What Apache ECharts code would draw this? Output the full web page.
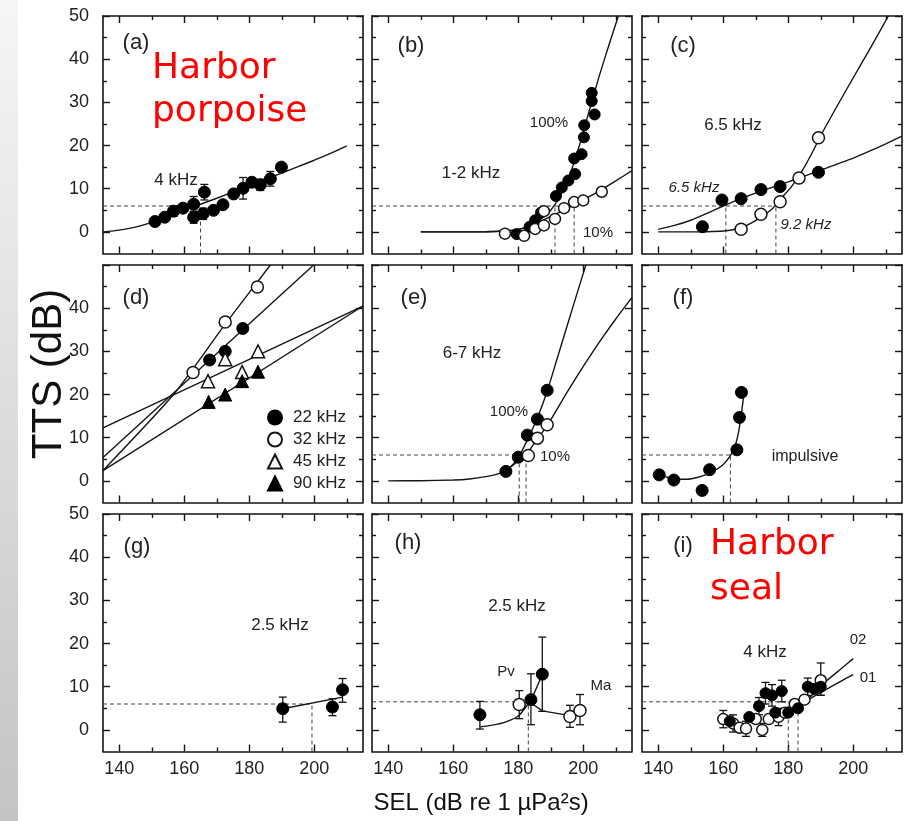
<!DOCTYPE html>
<html><head><meta charset="utf-8">
<script src="https://cdn.jsdelivr.net/npm/echarts@6/dist/echarts.min.js"></script>
<style>html,body{margin:0;padding:0;background:#fff}#c{width:912px;height:821px}</style>
</head><body><div id="c"></div>
<script>
// ---------- tick labels ----------
const xTickLabels = [140, 160, 180, 200];
const xMinorTicks = [150, 170, 190, 210];
const yTickLabelsFull = [0, 10, 20, 30, 40, 50];
const yTickLabelsMid = [0, 10, 20, 30, 40];
const yMinorTicks = [5, 15, 25, 35, 45];

// ---------- (a) harbor porpoise 4 kHz ----------
const aPts = [[151,2.4],[154,3.4],[156.7,4.8],[159.6,5.5],[162.9,6.4],[162.9,3.4],[166.2,9.2],[165.8,4.2],[169,5],[171.9,6.3],[175.2,8.8],[178.1,10.1],[180.8,11.5],[183.4,10.9],[186.5,12.3],[189.9,15.0]];
const aErr = [[156.7,3.6,6.0],[162.9,4.6,8.2],[162.9,2.0,4.8],[166.2,7.4,11.0],[165.8,2.9,5.5],[178.1,7.6,12.6],[183.4,9.6,12.2],[186.5,10.6,14.0]];
const aFit = [[135,0],[140,0.4],[145,1.1],[150,2.2],[155,3.6],[160,5],[165,6.4],[170,7.8],[175,9.25],[180,10.7],[185,12.2],[190,13.6],[195,15.1],[200,16.6],[205,18.2],[210,19.9]];
const aDash = [[[135,6],[165,6]],[[165,-5],[165,6]]];

// ---------- (b) 1-2 kHz ----------
const bFilled = [[179.5,-0.5],[183.5,1.2],[185.2,2.7],[187,4.5],[191.6,8.3],[193.4,10.3],[195.4,11.9],[197.5,13.4],[197.2,17],[199.5,18],[200.2,21.9],[200.3,24.7],[203.5,27.2],[202.6,30.3],[202.6,32.2]];
const bOpen = [[175.9,-0.4],[181.8,-0.9],[185.2,0.7],[187.9,1.5],[187.9,4.8],[191.3,3.0],[194.1,5.5],[197.2,6.9],[200,7.3],[205.7,9.3]];
const b100Fit = [[150,0],[160,0],[170,0.05],[175,0.15],[178,0.3],[181,0.7],[184,1.5],[187,3.0],[190,5.0],[193,8.5],[196,13.5],[199,20.5],[202,28.5],[205,36.3],[208,43.5],[210.8,50]];
const b10Fit = [[150,0],[160,0],[170,0.05],[175,0.2],[180,0.6],[185,1.8],[190,3.6],[195,5.4],[200,7.4],[205,9.5],[210,11.8],[215,14.2]];
const bDash = [[[135,6],[197.2,6]],[[191.3,-5],[191.3,6]],[[197.2,-5],[197.2,6]]];

// ---------- (c) 6.5 kHz exposure ----------
const cFilled = [[153.6,1.2],[159.6,7.4],[165.5,7.7],[171.6,9.8],[177.5,10.5],[189.3,13.8]];
const cOpen = [[165.5,0.6],[171.6,4.1],[177.5,7.0],[183.3,12.5],[189.3,21.8]];
const c65Fit = [[140,0.6],[145,1.5],[150,2.7],[155,4.3],[160,6.0],[165,7.6],[170,9],[175,10.3],[180,11.6],[185,12.9],[190,14.3],[195,15.7],[200,17.1],[205,18.7],[210,20.4],[215,22.2]];
const c92Fit = [[140,0],[145,0],[150,0],[155,0.05],[160,0.2],[163,0.5],[166,1.1],[169,2.2],[172,3.6],[175,5.3],[178,7.9],[181,10.5],[184,13.8],[187,17.8],[190,22.3],[195,29.1],[200,35.7],[205,42.2],[210.8,50]];
const cDash = [[[135,6],[176.2,6]],[[160.8,-5],[160.8,6]],[[176.2,-5],[176.2,6]]];

// ---------- (d) high frequencies ----------
const d22 = [[167.8,28],[172.6,30],[178,35.3]];
const d32 = [[162.7,25.1],[172.6,36.8],[182.5,44.9]];
const d45 = [[167.3,23.1],[172.6,28.2],[177.8,25.2],[182.7,30]];
const d90 = [[167.5,18.3],[172.6,20],[177.8,23.1],[182.7,25.3]];
const d22Fit = [[135,5.4],[199.8,50]];
const d32Fit = [[135,2.4],[156.7,20],[172.6,36.3],[186.5,50]];
const d45Fit = [[135,12.3],[215,40.5]];
const d90Fit = [[135,2.4],[215,40.5]];

// ---------- (e) 6-7 kHz ----------
const eFilled = [[176.2,2.2],[180,5.5],[182.8,10.6],[185.9,14.3],[188.9,21]];
const eOpen = [[183.1,5.9],[185.9,9.9],[188.9,13]];
const e100Fit = [[140,0],[150,0.05],[160,0.2],[165,0.45],[170,1],[174,1.7],[177,2.8],[180,5.4],[183,9.8],[186,14.8],[189,21],[192,28.4],[195,35.8],[198,43.2],[200.8,50]];
const e10Fit = [[177,2.8],[180,4.6],[182.4,6],[185,8.8],[188.9,12.8],[195,20.5],[200,26.5],[205,32.2],[210,37.5],[215,42.5]];
const eDash = [[[135,6],[182.4,6]],[[180.3,-5],[180.3,6]],[[182.4,-5],[182.4,6]]];

// ---------- (f) impulsive ----------
const fPts = [[140.3,1.4],[144.8,0.2],[153.5,-2.2],[155.8,2.6],[164.2,7.2],[165,14.7],[165.6,20.5]];
const fFit = [[140.3,1.4],[143,0.8],[146,0.4],[149,0.4],[152,0.8],[155,1.5],[158,2.7],[160,3.8],[162,5.6],[163.5,7.8],[164.5,10.5],[165.3,14],[166,18],[166.5,21]];
const fDash = [[[135,6],[162.2,6]],[[162.2,-5],[162.2,6]]];

// ---------- (g) 2.5 kHz ----------
const gPts = [[190.3,4.9],[205.6,5.3],[208.7,9.3]];
const gErr = [[190.3,1.8,7.6],[205.6,3.3,7.2],[208.7,6.4,11.9]];
const gFit = [[190.3,4.9],[208.7,7.6]];
const gDash = [[[135,6],[199.3,6]],[[199.3,-5],[199.3,6]]];

// ---------- (h) 2.5 kHz Pv / Ma ----------
const hFilled = [[168.2,3.5],[183.9,7.0],[187.4,12.9]];
const hFilledErr = [[168.2,0.2,6.6],[183.9,1.2,13.0],[187.4,4.3,21.5]];
const hOpen = [[180.3,5.9],[195.9,3.1],[199,4.5]];
const hOpenErr = [[180.3,2.6,9.1],[195.9,0.6,5.7],[199,1.2,8.2]];
const hPvFit = [[168.2,0.7],[172,1.1],[176,1.8],[180,3.2],[183.9,7],[187.4,12.9]];
const hMaFit = [[183.6,6.4],[187.4,4.4],[196,3.3]];
const hDash = [[[135,6.5],[183.1,6.5]],[[183.1,-5],[183.1,6.5]]];

// ---------- (i) harbor seal 4 kHz ----------
const iFilled = [[162,2],[168,3],[171,5.5],[173,8.5],[175,8],[176,4],[178,9],[180,4],[183,5],[186,10],[188,9.5],[190,10]];
const iFilledErr = [[171,3.5,7.5],[173,6,11],[175,5.5,10.5],[178,6.5,11.5],[186,8,12],[190,8,12]];
const iOpen = [[160,2.5],[163,1.5],[165,0.5],[167,0.3],[170,2.5],[172,0],[174,2.5],[177,3],[179,4],[182,6],[185,7],[190,11.5]];
const iOpenErr = [[160,0.5,4.5],[163,-0.5,3.5],[167,-1.5,2],[172,-1.5,1.5],[177,1,5],[190,8,15.5]];
const i02Fit = [[176,3],[180,4.3],[184,6],[188,8.5],[192,11.5],[196,14],[200,16.5]];
const i01Fit = [[176,3.5],[180,4.6],[184,6],[188,7.8],[192,9.5],[196,11.2],[200,12.8]];
const iDash = [[[135,6.5],[183,6.5]],[[180,-5],[180,6.5]],[[183,-5],[183,6.5]]];

// ---------- layout ----------
const colLeft = [103, 372, 642];
const rowTop = [16, 265, 514];
const W = 260, H = 237.5;
const INK = '#151515';
const FONT = 'Liberation Sans, Arial, sans-serif';

const grids = [], xAxes = [], yAxes = [], series = [];
for (let r = 0; r < 3; r++) {
  for (let c = 0; c < 3; c++) {
    const g = r * 3 + c;
    grids.push({left: colLeft[c], top: rowTop[r], width: W, height: H, show: false});
    const baseX = {type: 'value', gridIndex: g, min: 135, max: 215, splitLine: {show: false}};
    const baseY = {type: 'value', gridIndex: g, min: -5, max: 50, splitLine: {show: false}};
    const line = {show: true, onZero: false, lineStyle: {color: INK, width: 1.6}};
    const noLine = {show: false, onZero: false};
    [['bottom', true], ['top', false]].forEach(([pos, lab]) => {
      xAxes.push(Object.assign({}, baseX, {position: pos, axisLine: line,
        axisTick: {show: true, inside: true, length: 7, customValues: xTickLabels, lineStyle: {color: INK, width: 1.4}},
        axisLabel: {show: lab && r === 2, customValues: xTickLabels, fontSize: 18, color: '#222', fontFamily: FONT, margin: 9}}));
      xAxes.push(Object.assign({}, baseX, {position: pos, axisLine: noLine,
        axisTick: {show: true, inside: true, length: 4, customValues: xMinorTicks, lineStyle: {color: INK, width: 1.4}},
        axisLabel: {show: false}}));
    });
    [['left', true], ['right', false]].forEach(([pos, lab]) => {
      yAxes.push(Object.assign({}, baseY, {position: pos, axisLine: line,
        axisTick: {show: true, inside: true, length: 7, customValues: yTickLabelsFull, lineStyle: {color: INK, width: 1.4}},
        axisLabel: {show: lab && c === 0, customValues: r === 1 ? yTickLabelsMid : yTickLabelsFull, fontSize: 18, color: '#222', fontFamily: FONT, margin: 14}}));
      yAxes.push(Object.assign({}, baseY, {position: pos, axisLine: noLine,
        axisTick: {show: true, inside: true, length: 4, customValues: yMinorTicks, lineStyle: {color: INK, width: 1.4}},
        axisLabel: {show: false}}));
    });
  }
}
const ax = g => ({xAxisIndex: g * 4, yAxisIndex: g * 4});

function fitLine(g, data, smooth) {
  series.push(Object.assign({type: 'line', data, smooth: smooth === false ? false : 0.2, symbol: 'none', silent: true, z: 2,
    lineStyle: {color: INK, width: 1.4}}, ax(g)));
}
function dashes(g, segs) {
  segs.forEach(seg => series.push(Object.assign({type: 'line', data: seg, symbol: 'none', silent: true, z: 1,
    lineStyle: {color: '#444', width: 1, type: [4, 3]}}, ax(g))));
}
function pts(g, data, kind, name, size) {
  const filled = kind === 'f' || kind === 'tf';
  const tri = kind === 'tf' || kind === 'to';
  series.push(Object.assign({type: 'scatter', name: name || ('s' + series.length), data,
    symbol: tri ? 'triangle' : 'circle', symbolSize: size || (tri ? 13 : 12), z: 4,
    itemStyle: filled ? {color: '#000', borderColor: '#000', borderWidth: 1, opacity: 1}
                      : {color: '#fff', borderColor: INK, borderWidth: 1.5, opacity: 1}}, ax(g)));
}
function errBars(g, data) {
  series.push(Object.assign({type: 'custom', data, z: 3, silent: true,
    renderItem: (params, api) => {
      const x = api.value(0), lo = api.value(1), hi = api.value(2);
      const p1 = api.coord([x, lo]), p2 = api.coord([x, hi]);
      const w = 4, st = {stroke: INK, lineWidth: 1.3};
      return {type: 'group', children: [
        {type: 'line', shape: {x1: p1[0], y1: p1[1], x2: p2[0], y2: p2[1]}, style: st},
        {type: 'line', shape: {x1: p1[0] - w, y1: p1[1], x2: p1[0] + w, y2: p1[1]}, style: st},
        {type: 'line', shape: {x1: p2[0] - w, y1: p2[1], x2: p2[0] + w, y2: p2[1]}, style: st}
      ]};
    }}, ax(g)));
}

// (a)
dashes(0, aDash); fitLine(0, aFit); errBars(0, aErr); pts(0, aPts, 'f');
// (b)
dashes(1, bDash); fitLine(1, b100Fit); fitLine(1, b10Fit); pts(1, bFilled, 'f', null, 11); pts(1, bOpen, 'o', null, 11);
// (c)
dashes(2, cDash); fitLine(2, c65Fit); fitLine(2, c92Fit); pts(2, cFilled, 'f'); pts(2, cOpen, 'o');
// (d)
fitLine(3, d22Fit, false); fitLine(3, d32Fit); fitLine(3, d45Fit, false); fitLine(3, d90Fit, false);
pts(3, d22, 'f', '22 kHz'); pts(3, d32, 'o', '32 kHz'); pts(3, d45, 'to', '45 kHz'); pts(3, d90, 'tf', '90 kHz');
// (e)
dashes(4, eDash); fitLine(4, e100Fit); fitLine(4, e10Fit); pts(4, eFilled, 'f'); pts(4, eOpen, 'o');
// (f)
dashes(5, fDash); fitLine(5, fFit); pts(5, fPts, 'f');
// (g)
dashes(6, gDash); fitLine(6, gFit, false); errBars(6, gErr); pts(6, gPts, 'f');
// (h)
dashes(7, hDash); fitLine(7, hPvFit); fitLine(7, hMaFit, false); errBars(7, hFilledErr); errBars(7, hOpenErr);
pts(7, hFilled, 'f'); pts(7, hOpen, 'o');
// (i)
dashes(8, iDash); fitLine(8, i02Fit); fitLine(8, i01Fit); errBars(8, iFilledErr); errBars(8, iOpenErr);
pts(8, iOpen, 'o', null, 11); pts(8, iFilled, 'f', null, 11);

// ---------- texts ----------
function txt(t, x, y, size, opts) {
  opts = opts || {};
  return {type: 'text', z: 50, x: x, y: y, rotation: opts.rot || 0, silent: true,
    style: {text: t, fontSize: size, fontFamily: opts.family || FONT, fontStyle: opts.italic ? 'italic' : 'normal',
      fill: opts.color || '#222', align: opts.align || 'center', verticalAlign: 'middle',
      textAlign: opts.align || 'center', textVerticalAlign: 'middle'}};
}
const red = {color: '#ff0000', family: 'DejaVu Sans, sans-serif', align: 'left'};
const graphics = [
  {type: 'rect', z: -10, silent: true, shape: {x: 0, y: 0, width: 18, height: 821},
    style: {fill: new echarts.graphic.LinearGradient(0, 0, 0, 1, [{offset: 0, color: '#f6f6f6'}, {offset: 1, color: '#c4c4c4'}])}},
  txt('TTS (dB)', 49, 374, 42, {rot: Math.PI / 2, color: '#111'}),
  txt('SEL (dB re 1 µPa²s)', 481, 803, 24, {color: '#111'}),
  txt('(a)', 136, 43, 22), txt('(b)', 411, 46, 22), txt('(c)', 683, 46, 22),
  txt('(d)', 136, 298, 22), txt('(e)', 414, 298, 22), txt('(f)', 683, 298, 22),
  txt('(g)', 137, 547, 22), txt('(h)', 408, 543, 22), txt('(i)', 683, 546, 22),
  txt('Harbor', 152, 69, 36, red), txt('porpoise', 152, 112, 36, red),
  txt('Harbor', 710, 545, 36, red), txt('seal', 710, 590, 36, red),
  txt('4 kHz', 176, 180, 17),
  txt('100%', 549, 123, 15), txt('1-2 kHz', 471, 173, 17), txt('10%', 598, 233, 15),
  txt('6.5 kHz', 733, 125, 17), txt('6.5 kHz', 694, 188, 15, {italic: true}), txt('9.2 kHz', 806, 225, 15, {italic: true}),
  txt('6-7 kHz', 472, 353, 17), txt('100%', 509, 412, 15), txt('10%', 555, 457, 15),
  txt('impulsive', 805, 457, 16),
  txt('2.5 kHz', 280, 625, 17),
  txt('2.5 kHz', 517, 606, 17), txt('Pv', 506, 672, 15), txt('Ma', 601, 686, 15),
  txt('4 kHz', 765, 652, 17), txt('02', 858, 640, 15), txt('01', 868, 678, 15)
];

const chart = echarts.init(document.getElementById('c'), null, {renderer: 'canvas'});
chart.setOption({
  animation: false,
  backgroundColor: '#fff',
  grid: grids, xAxis: xAxes, yAxis: yAxes, series: series,
  legend: {data: ['22 kHz', '32 kHz', '45 kHz', '90 kHz'], orient: 'vertical', left: 262, top: 404,
    itemWidth: 14, itemHeight: 14, itemGap: 5, selectedMode: false,
    textStyle: {fontSize: 17, color: '#222', fontFamily: FONT, padding: [0, 0, 0, 6]}},
  graphic: graphics
});
</script></body></html>
